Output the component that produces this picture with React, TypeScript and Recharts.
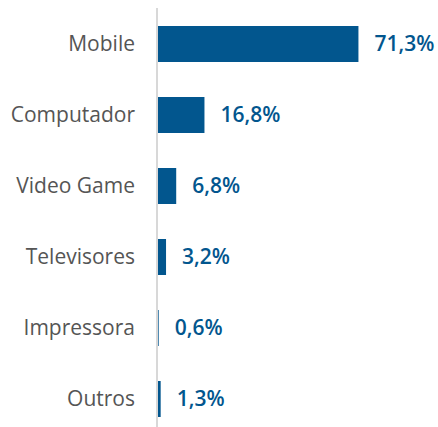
import { BarChart, Bar, XAxis, YAxis, LabelList } from 'recharts';

const categories = ['Mobile', 'Computador', 'Video Game', 'Televisores', 'Impressora', 'Outros'];
const shares = [71.3, 16.8, 6.8, 3.2, 0.6, 1.3];

const data = categories.map((name, i) => ({ name, value: shares[i] }));

const BLUE = '#02568e';
const font = '"Open Sans", sans-serif';

const fmt = (v: unknown) => `${Number(v).toFixed(1).replace('.', ',')}%`;

export default function App() {
  return (
    <div style={{ position: 'absolute', left: 0, top: 0, width: 438, height: 427, overflow: 'hidden' }}>
      <BarChart
        width={438}
        height={434}
        data={data}
        layout="vertical"
        barSize={36}
        margin={{ top: 8, right: 55, left: 0, bottom: 0 }}
      >
        <XAxis type="number" domain={[0, 80]} hide />
        <YAxis
          type="category"
          dataKey="name"
          width={157}
          tickLine={false}
          tickSize={0}
          tickMargin={22}
          axisLine={{ stroke: '#d8d8d8', strokeWidth: 2 }}
          tick={{ fill: '#555555', fontSize: 21, fontFamily: font }}
        />
        <Bar dataKey="value" fill={BLUE} isAnimationActive={false}>
          <LabelList
            dataKey="value"
            position="right"
            offset={16}
            formatter={fmt}
            style={{ fill: BLUE, fontSize: 21, fontWeight: 600, fontFamily: font }}
          />
        </Bar>
      </BarChart>
    </div>
  );
}
